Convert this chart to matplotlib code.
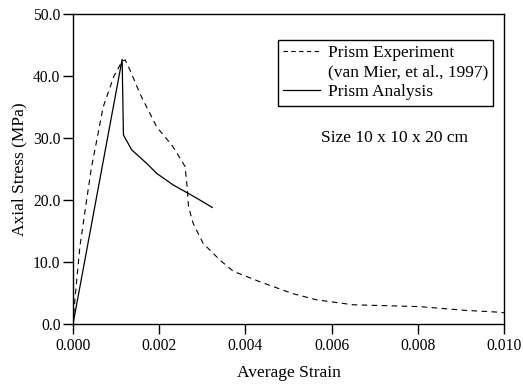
import matplotlib
matplotlib.use("Agg")
import matplotlib.pyplot as plt
from matplotlib.lines import Line2D

plt.rcParams['font.family'] = ['Liberation Serif', 'DejaVu Serif']
plt.rcParams['font.size'] = 12.5

# experiment (van Mier, 1997)
exp_strain = [0.0, 0.00005, 0.00016, 0.00036, 0.00043, 0.0007, 0.00095, 0.00114, 0.00121,
              0.00132, 0.00155, 0.00194, 0.00232, 0.0026, 0.00265, 0.00268, 0.00279,
              0.00302, 0.00341, 0.00372, 0.00434, 0.0051, 0.00565, 0.0065, 0.00805,
              0.0091, 0.0099, 0.0100]
exp_stress = [0.0, 4.4, 12.5, 22.1, 25.3, 35.0, 40.0, 42.4, 42.6,
              41.0, 37.2, 31.8, 28.6, 25.4, 22.0, 18.9, 16.2,
              13.0, 10.3, 8.5, 6.8, 4.9, 3.9, 3.1, 2.8,
              2.2, 1.9, 1.8]

# analysis
ana_strain = [0.0, 0.00114, 0.00117, 0.00136, 0.00171, 0.00194, 0.00233, 0.00264, 0.00287, 0.00323]
ana_stress = [0.0, 42.7, 30.5, 28.1, 25.9, 24.3, 22.4, 21.2, 20.3, 18.8]

fig = plt.figure(figsize=(5.23, 3.89), dpi=100)
ax = fig.add_axes([0.1396, 0.1671, 0.8241, 0.7969])

ax.plot(exp_strain, exp_stress, color='black', lw=0.8, dashes=(5, 4))
ax.plot(ana_strain, ana_stress, color='black', lw=0.9)

ax.set_xlim(0, 0.010)
ax.set_ylim(0, 50)
ax.set_xticks([0.0, 0.002, 0.004, 0.006, 0.008, 0.010])
ax.set_xticklabels(['%.3f' % v for v in ax.get_xticks()])
ax.set_yticks([0, 10, 20, 30, 40, 50])
ax.set_yticklabels(['%.1f' % v for v in ax.get_yticks()])
ax.tick_params(direction='out', length=7, width=1, labelsize=11.25)
ax.tick_params(axis='x', pad=3)
ax.tick_params(axis='y', pad=2)
for s in ax.spines.values():
    s.set_linewidth(1.0)

ax.set_xlabel('Average Strain', labelpad=8)
ax.set_ylabel('Axial Stress (MPa)', labelpad=4)

handles = [Line2D([], [], color='black', lw=0.8, dashes=(4, 3)),
           Line2D([], [], color='none'),
           Line2D([], [], color='black', lw=0.9)]
labels = ['Prism Experiment', '(van Mier, et al., 1997)', 'Prism Analysis']
leg = ax.legend(handles, labels, loc='upper left', bbox_to_anchor=(0.476, 0.917),
                fancybox=False, edgecolor='black', framealpha=1, handlelength=2.1,
                handletextpad=0.45, labelspacing=0.2, borderpad=0.3, borderaxespad=0)
leg.get_frame().set_linewidth(1.0)

ax.text(0.575, 0.6, 'Size 10 x 10 x 20 cm', transform=ax.transAxes, ha='left', va='center')

fig.savefig('out.png', dpi=100)
